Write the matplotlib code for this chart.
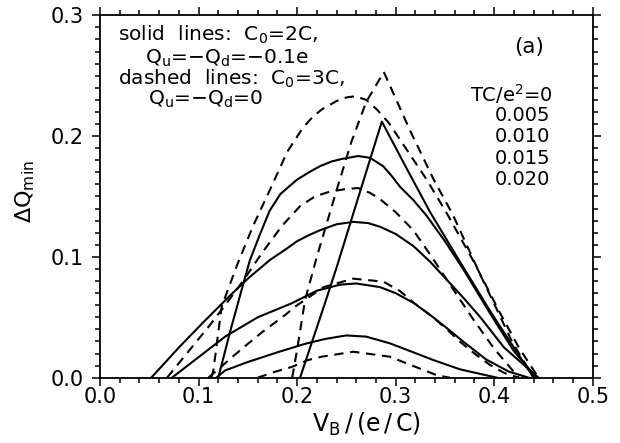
import matplotlib
matplotlib.use('Agg')
import matplotlib.pyplot as plt
from matplotlib.ticker import MultipleLocator, FormatStrFormatter

# temperatures TC/e^2
temps = ['0', '0.005', '0.010', '0.015', '0.020']

# solid lines: C0=2C, Qu=-Qd=-0.1e
vb_s0 = [0.203, 0.228, 0.240, 0.262, 0.286, 0.310, 0.335, 0.366, 0.396, 0.420, 0.440]
dq_s0 = [0.0, 0.061, 0.091, 0.149, 0.212, 0.175, 0.137, 0.095, 0.055, 0.025, 0.0]

vb_s1 = [0.120, 0.132, 0.1455, 0.152, 0.162, 0.172, 0.183, 0.200, 0.212, 0.223, 0.235,
         0.245, 0.262, 0.274, 0.2875, 0.296, 0.3045, 0.318, 0.3315, 0.350, 0.370,
         0.396, 0.420, 0.443]
dq_s1 = [0.0, 0.038, 0.078, 0.097, 0.118, 0.138, 0.152, 0.164, 0.170, 0.175, 0.179,
         0.181, 0.1835, 0.182, 0.175, 0.167, 0.158, 0.147, 0.134, 0.113, 0.088,
         0.053, 0.022, 0.0]

vb_s2 = [0.052, 0.080, 0.105, 0.132, 0.150, 0.1725, 0.188, 0.200, 0.212, 0.223, 0.240,
         0.257, 0.272, 0.284, 0.300, 0.318, 0.335, 0.352, 0.370, 0.386, 0.410, 0.445]
dq_s2 = [0.0, 0.025, 0.046, 0.068, 0.082, 0.0975, 0.106, 0.113, 0.118, 0.122, 0.127,
         0.129, 0.128, 0.125, 0.119, 0.109, 0.096, 0.081, 0.065, 0.050, 0.025, 0.0]

vb_s3 = [0.073, 0.100, 0.127, 0.160, 0.1945, 0.220, 0.2435, 0.260, 0.284, 0.300,
         0.318, 0.335, 0.352, 0.370, 0.392, 0.415, 0.435]
dq_s3 = [0.0, 0.017, 0.034, 0.050, 0.0616, 0.072, 0.077, 0.078, 0.075, 0.070,
         0.062, 0.052, 0.041, 0.029, 0.015, 0.005, 0.0]

vb_s4 = [0.118, 0.127, 0.150, 0.180, 0.208, 0.228, 0.250, 0.270, 0.294, 0.318,
         0.338, 0.365, 0.392, 0.403]
dq_s4 = [0.0, 0.006, 0.013, 0.021, 0.028, 0.032, 0.035, 0.034, 0.0285, 0.021,
         0.0147, 0.007, 0.002, 0.0]

# dashed lines: C0=3C, Qu=-Qd=0
vb_d0 = [0.195, 0.200, 0.208, 0.220, 0.240, 0.255, 0.270, 0.288, 0.315, 0.338,
         0.358, 0.386, 0.403, 0.418, 0.440]
dq_d0 = [0.0, 0.023, 0.064, 0.100, 0.155, 0.195, 0.228, 0.253, 0.204, 0.165,
         0.135, 0.085, 0.056, 0.030, 0.0]

vb_d1 = [0.113, 0.115, 0.1235, 0.139, 0.155, 0.175, 0.190, 0.206, 0.216, 0.225, 0.240,
         0.250, 0.259, 0.270, 0.281, 0.293, 0.3045, 0.3315, 0.352, 0.380, 0.405,
         0.425, 0.445]
dq_d1 = [0.0, 0.006, 0.059, 0.093, 0.125, 0.160, 0.187, 0.207, 0.216, 0.222, 0.229,
         0.232, 0.233, 0.230, 0.222, 0.211, 0.197, 0.164, 0.136, 0.095, 0.055,
         0.025, 0.0]

vb_d2 = [0.068, 0.090, 0.110, 0.127, 0.145, 0.165, 0.185, 0.203, 0.218, 0.233, 0.248,
         0.262, 0.274, 0.284, 0.300, 0.318, 0.335, 0.352, 0.379, 0.400, 0.425]
dq_d2 = [0.0, 0.022, 0.042, 0.060, 0.080, 0.104, 0.126, 0.142, 0.150, 0.154, 0.156,
         0.157, 0.153, 0.148, 0.137, 0.122, 0.102, 0.081, 0.048, 0.024, 0.0]

vb_d3 = [0.110, 0.120, 0.134, 0.147, 0.165, 0.188, 0.200, 0.227, 0.257, 0.2875,
         0.304, 0.320, 0.338, 0.352, 0.365, 0.380, 0.395, 0.410, 0.425]
dq_d3 = [0.0, 0.007, 0.017, 0.026, 0.038, 0.052, 0.060, 0.075, 0.082, 0.0795,
         0.072, 0.061, 0.050, 0.040, 0.030, 0.020, 0.011, 0.004, 0.0]

vb_d4 = [0.160, 0.178, 0.195, 0.211, 0.225, 0.257, 0.294, 0.320, 0.342, 0.355]
dq_d4 = [0.0, 0.005, 0.009, 0.0146, 0.0174, 0.0215, 0.0174, 0.009, 0.002, 0.0]

solid = [(vb_s0, dq_s0), (vb_s1, dq_s1), (vb_s2, dq_s2), (vb_s3, dq_s3), (vb_s4, dq_s4)]
dashed = [(vb_d0, dq_d0), (vb_d1, dq_d1), (vb_d2, dq_d2), (vb_d3, dq_d3), (vb_d4, dq_d4)]

plt.rcParams['font.family'] = ['DejaVu Sans']
plt.rcParams['mathtext.default'] = 'regular'

fig = plt.figure(figsize=(6.2, 4.43), dpi=100)
ax = fig.add_axes([0.1613, 0.1474, 0.7947, 0.8181])

for v, q in solid:
    ax.plot(v, q, color='black', lw=1.5, solid_joinstyle='round')
for v, q in dashed:
    ax.plot(v, q, color='black', lw=1.5, linestyle=(0, (4.5, 3.2)))

ax.set_xlim(0, 0.5)
ax.set_ylim(0, 0.3)
ax.xaxis.set_major_locator(MultipleLocator(0.1))
ax.xaxis.set_minor_locator(MultipleLocator(0.02))
ax.yaxis.set_major_locator(MultipleLocator(0.1))
ax.yaxis.set_minor_locator(MultipleLocator(0.01))
ax.xaxis.set_major_formatter(FormatStrFormatter('%.1f'))
ax.yaxis.set_major_formatter(FormatStrFormatter('%.1f'))
ax.tick_params(which='both', direction='out', top=True, right=True, width=1.1)
ax.tick_params(which='major', length=5.5, labelsize=15)
ax.tick_params(which='minor', length=3.5)
ax.tick_params(axis='x', pad=1.5)
ax.tick_params(axis='y', pad=6)
for s in ax.spines.values():
    s.set_linewidth(1.3)

ax.set_xlabel(r'$V_B\,/\,(e\,/\,C)$', fontsize=17)
ax.set_ylabel(r'$\Delta Q_{min}$', fontsize=16)
ax.xaxis.set_label_coords(0.54, -0.092)
ax.yaxis.set_label_coords(-0.128, 0.515)

fs = 14.5
ax.text(0.018, 0.2837, 'solid  lines:  $C_0$=2C,', fontsize=fs, va='center')
ax.text(0.0457, 0.264, '$Q_u$=$-Q_d$=$-$0.1e', fontsize=fs, va='center')
ax.text(0.018, 0.247, 'dashed  lines:  $C_0$=3C,', fontsize=fs, va='center')
ax.text(0.049, 0.2305, '$Q_u$=$-Q_d$=0', fontsize=fs, va='center')
ax.text(0.435, 0.274, '(a)', fontsize=15.5, ha='center', va='center')

ax.text(0.46, 0.235, '$TC/e^2$=' + temps[0], fontsize=14, ha='right', va='center')
ys = [0.2173, 0.1995, 0.1816, 0.1637]
for t, y in zip(temps[1:], ys):
    ax.text(0.457, y, t, fontsize=14, ha='right', va='center')

fig.savefig('out.png', dpi=100)
